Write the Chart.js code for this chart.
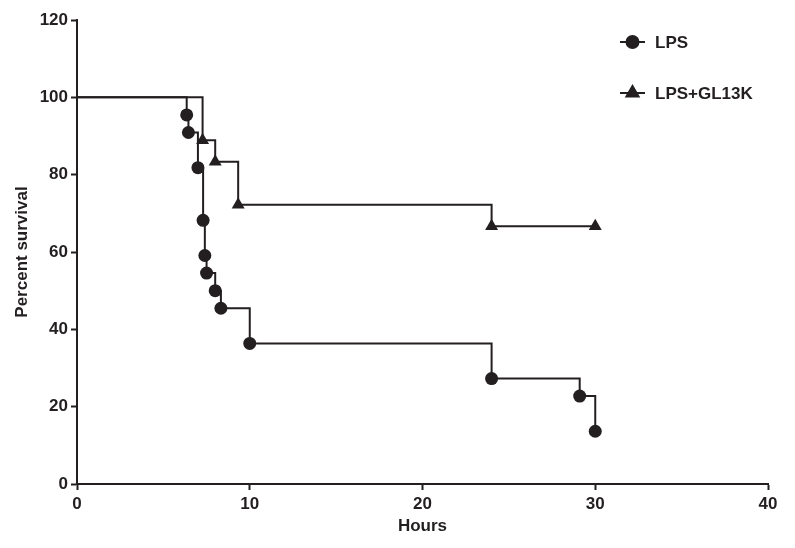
<!DOCTYPE html>
<html>
<head>
<meta charset="utf-8">
<script src="https://cdn.jsdelivr.net/npm/chart.js@4"></script>
<style>
  html, body { margin: 0; padding: 0; background: #fff; }
  #wrap { width: 795px; height: 548px; position: relative; }
</style>
</head>
<body>
<div id="wrap"><canvas id="chart"></canvas></div>
<script>
// Kaplan-Meier survival, values
const seriesNames = ['LPS', 'LPS+GL13K'];
const lpsHours    = [0, 6.35, 6.45, 7.0, 7.3, 7.4, 7.5, 8.0, 8.33, 10, 24, 29.1, 30];
const lpsSurvival = [100, 95.45, 90.91, 81.82, 68.18, 59.09, 54.55, 50.0, 45.45, 36.36, 27.27, 22.73, 13.64];
const glHours     = [0, 7.27, 8.0, 9.33, 24, 30];
const glSurvival  = [100, 88.89, 83.33, 72.22, 66.67, 66.67];
const xTicks = [0, 10, 20, 30, 40];
const yTicks = [0, 20, 40, 60, 80, 100, 120];

const ink = '#231f20';
const fontFamily = '"Liberation Sans", Arial, sans-serif';

function toPoints(xs, ys) {
    return xs.map((x, i) => ({ x: x, y: ys[i] }));
}

// no marker on the starting point at time 0
function radii(xs, r) {
    return xs.map((x, i) => i === 0 ? 0 : r);
}

// legend drawn in the top right like the original
const sideLegend = {
    id: 'sideLegend',
    afterDraw(chart) {
        const ctx = chart.ctx;
        const rows = [
            { y: 42, style: 'circle', r: 6 },
            { y: 93, style: 'triangle', r: 7 }
        ];
        ctx.save();
        rows.forEach((row, i) => {
            ctx.strokeStyle = ink;
            ctx.fillStyle = ink;
            ctx.lineWidth = 2;
            ctx.beginPath();
            ctx.moveTo(620, row.y);
            ctx.lineTo(645, row.y);
            ctx.stroke();
            Chart.helpers.drawPoint(ctx, { pointStyle: row.style, radius: row.r, borderWidth: 1 }, 632.5, row.y);
            ctx.font = 'bold 17px ' + fontFamily;
            ctx.textBaseline = 'middle';
            ctx.textAlign = 'left';
            ctx.fillText(seriesNames[i], 655, row.y + 1);
        });
        ctx.restore();
    }
};

const tickFont = { family: fontFamily, size: 17, weight: 'bold' };
const titleFont = { family: fontFamily, size: 17, weight: 'bold' };

new Chart(document.getElementById('chart').getContext('2d'), {
    type: 'line',
    data: {
        datasets: [{
            label: seriesNames[0],
            data: toPoints(lpsHours, lpsSurvival),
            stepped: 'before',
            borderColor: ink,
            backgroundColor: ink,
            borderWidth: 2,
            pointStyle: 'circle',
            pointRadius: radii(lpsHours, 6.5),
            pointBorderWidth: 0,
            fill: false,
            clip: false
        }, {
            label: seriesNames[1],
            data: toPoints(glHours, glSurvival),
            stepped: 'before',
            borderColor: ink,
            backgroundColor: ink,
            borderWidth: 2,
            pointStyle: 'triangle',
            pointRadius: radii(glHours, 7.5),
            pointBorderWidth: 0,
            fill: false,
            clip: false
        }]
    },
    options: {
        responsive: true,
        maintainAspectRatio: false,
        animation: false,
        layout: { padding: { top: 20, right: 27, bottom: 0, left: 0 } },
        plugins: {
            legend: { display: false },
            tooltip: { enabled: false }
        },
        scales: {
            x: {
                type: 'linear',
                min: 0,
                max: 40,
                afterBuildTicks: s => { s.ticks = xTicks.map(v => ({ value: v })); },
                afterFit: s => { s.height = 64; },
                grid: { drawOnChartArea: false, drawTicks: true, tickLength: 6, tickColor: ink, tickWidth: 2 },
                border: { color: ink, width: 2 },
                ticks: { color: ink, font: tickFont, padding: 4, maxRotation: 0 },
                title: { display: true, text: 'Hours', color: ink, font: titleFont, padding: { top: 0, bottom: 11 } }
            },
            y: {
                min: 0,
                max: 120,
                afterBuildTicks: s => { s.ticks = yTicks.map(v => ({ value: v })); },
                afterFit: s => { s.width = 77; },
                grid: { drawOnChartArea: false, drawTicks: true, tickLength: 6, tickColor: ink, tickWidth: 2 },
                border: { color: ink, width: 2 },
                ticks: { color: ink, font: tickFont, padding: 3 },
                title: { display: true, text: 'Percent survival', color: ink, font: titleFont, padding: { top: 12, bottom: 0 } }
            }
        }
    },
    plugins: [sideLegend]
});
</script>
</body>
</html>
